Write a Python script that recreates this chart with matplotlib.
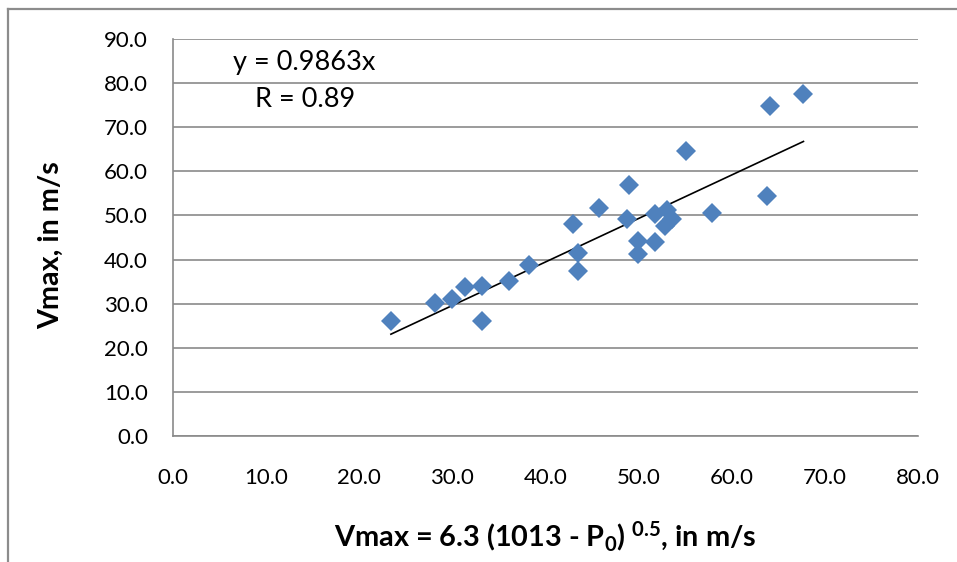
import numpy as np
import matplotlib as mpl
import matplotlib.pyplot as plt
from matplotlib.lines import Line2D

mpl.rcParams['font.family'] = ['Lato', 'DejaVu Sans']
mpl.rcParams['mathtext.default'] = 'regular'

# values
vmax_formula = [23.4, 28.1, 30.0, 31.4, 33.2, 33.2, 36.1, 38.2, 43.0, 43.5, 43.5,
                45.7, 48.7, 49.0, 49.9, 49.9, 51.8, 51.8, 53.0, 53.6, 52.8,
                55.1, 57.9, 63.8, 64.1, 67.7]
vmax_obs = [26.0, 30.1, 31.1, 33.7, 34.1, 26.0, 35.2, 38.8, 48.0, 41.4, 37.3,
            51.7, 49.1, 56.8, 44.1, 41.3, 43.9, 50.3, 51.2, 49.2, 47.5,
            64.6, 50.6, 54.3, 74.9, 77.5]
slope = 0.9863
r_value = 0.89
x_ticks = np.arange(0, 81, 10)
y_ticks = np.arange(0, 91, 10)

GRID = '#8a8a8a'
BLUE = '#4f81bd'

fig = plt.figure(figsize=(9.57, 5.62), dpi=100)
ax = fig.add_axes([173 / 957, 1 - 436 / 562, 745 / 957, 397 / 562])

x = np.array(vmax_formula)
y = np.array(vmax_obs)
xs = np.array([x.min(), x.max()])
ax.plot(xs, slope * xs, color='black', linewidth=1.2, zorder=3)
ax.plot(x, y, linestyle='none', marker='D', markersize=10.5, color=BLUE,
        markeredgewidth=0, zorder=4)

ax.set_xlim(0, 80)
ax.set_ylim(0, 90)
ax.set_xticks(x_ticks)
ax.set_yticks(y_ticks)
ax.set_xticklabels([f"{v:.1f}" for v in x_ticks])
ax.set_yticklabels([f"{v:.1f}" for v in y_ticks])
ax.tick_params(length=0, labelsize=16)
ax.tick_params(axis='x', pad=23)
ax.tick_params(axis='y', pad=18)

ax.yaxis.grid(True, color=GRID, linewidth=1.2)
ax.set_axisbelow(True)
for s in ['top', 'right']:
    ax.spines[s].set_visible(False)
for s in ['left', 'bottom']:
    ax.spines[s].set_color(GRID)
    ax.spines[s].set_linewidth(1.2)

ax.text(14.1, 84.6, f"y = {slope}x", ha='center', va='center', fontsize=19.5)
ax.text(14.2, 76.2, f"R = {r_value}", ha='center', va='center', fontsize=19.5)

fig.text(545 / 957, 1 - 536 / 562, r"Vmax = 6.3 (1013 - P$_0$) $^{0.5}$, in m/s",
         ha='center', va='center', fontsize=20.8, fontweight='bold')
fig.text(51 / 957, 1 - 245 / 562, "Vmax, in m/s", ha='center', va='center',
         rotation=90, fontsize=20.6, fontweight='bold')

# outer chart border (left and top edges visible)
fig.add_artist(Line2D([8 / 957, 8 / 957], [0, 1 - 9 / 562], color='#8c8c8c',
                      linewidth=1.6, transform=fig.transFigure))
fig.add_artist(Line2D([8 / 957, 1], [1 - 9 / 562, 1 - 9 / 562], color='#8c8c8c',
                      linewidth=1.6, transform=fig.transFigure))

fig.savefig('out.png', dpi=100)
